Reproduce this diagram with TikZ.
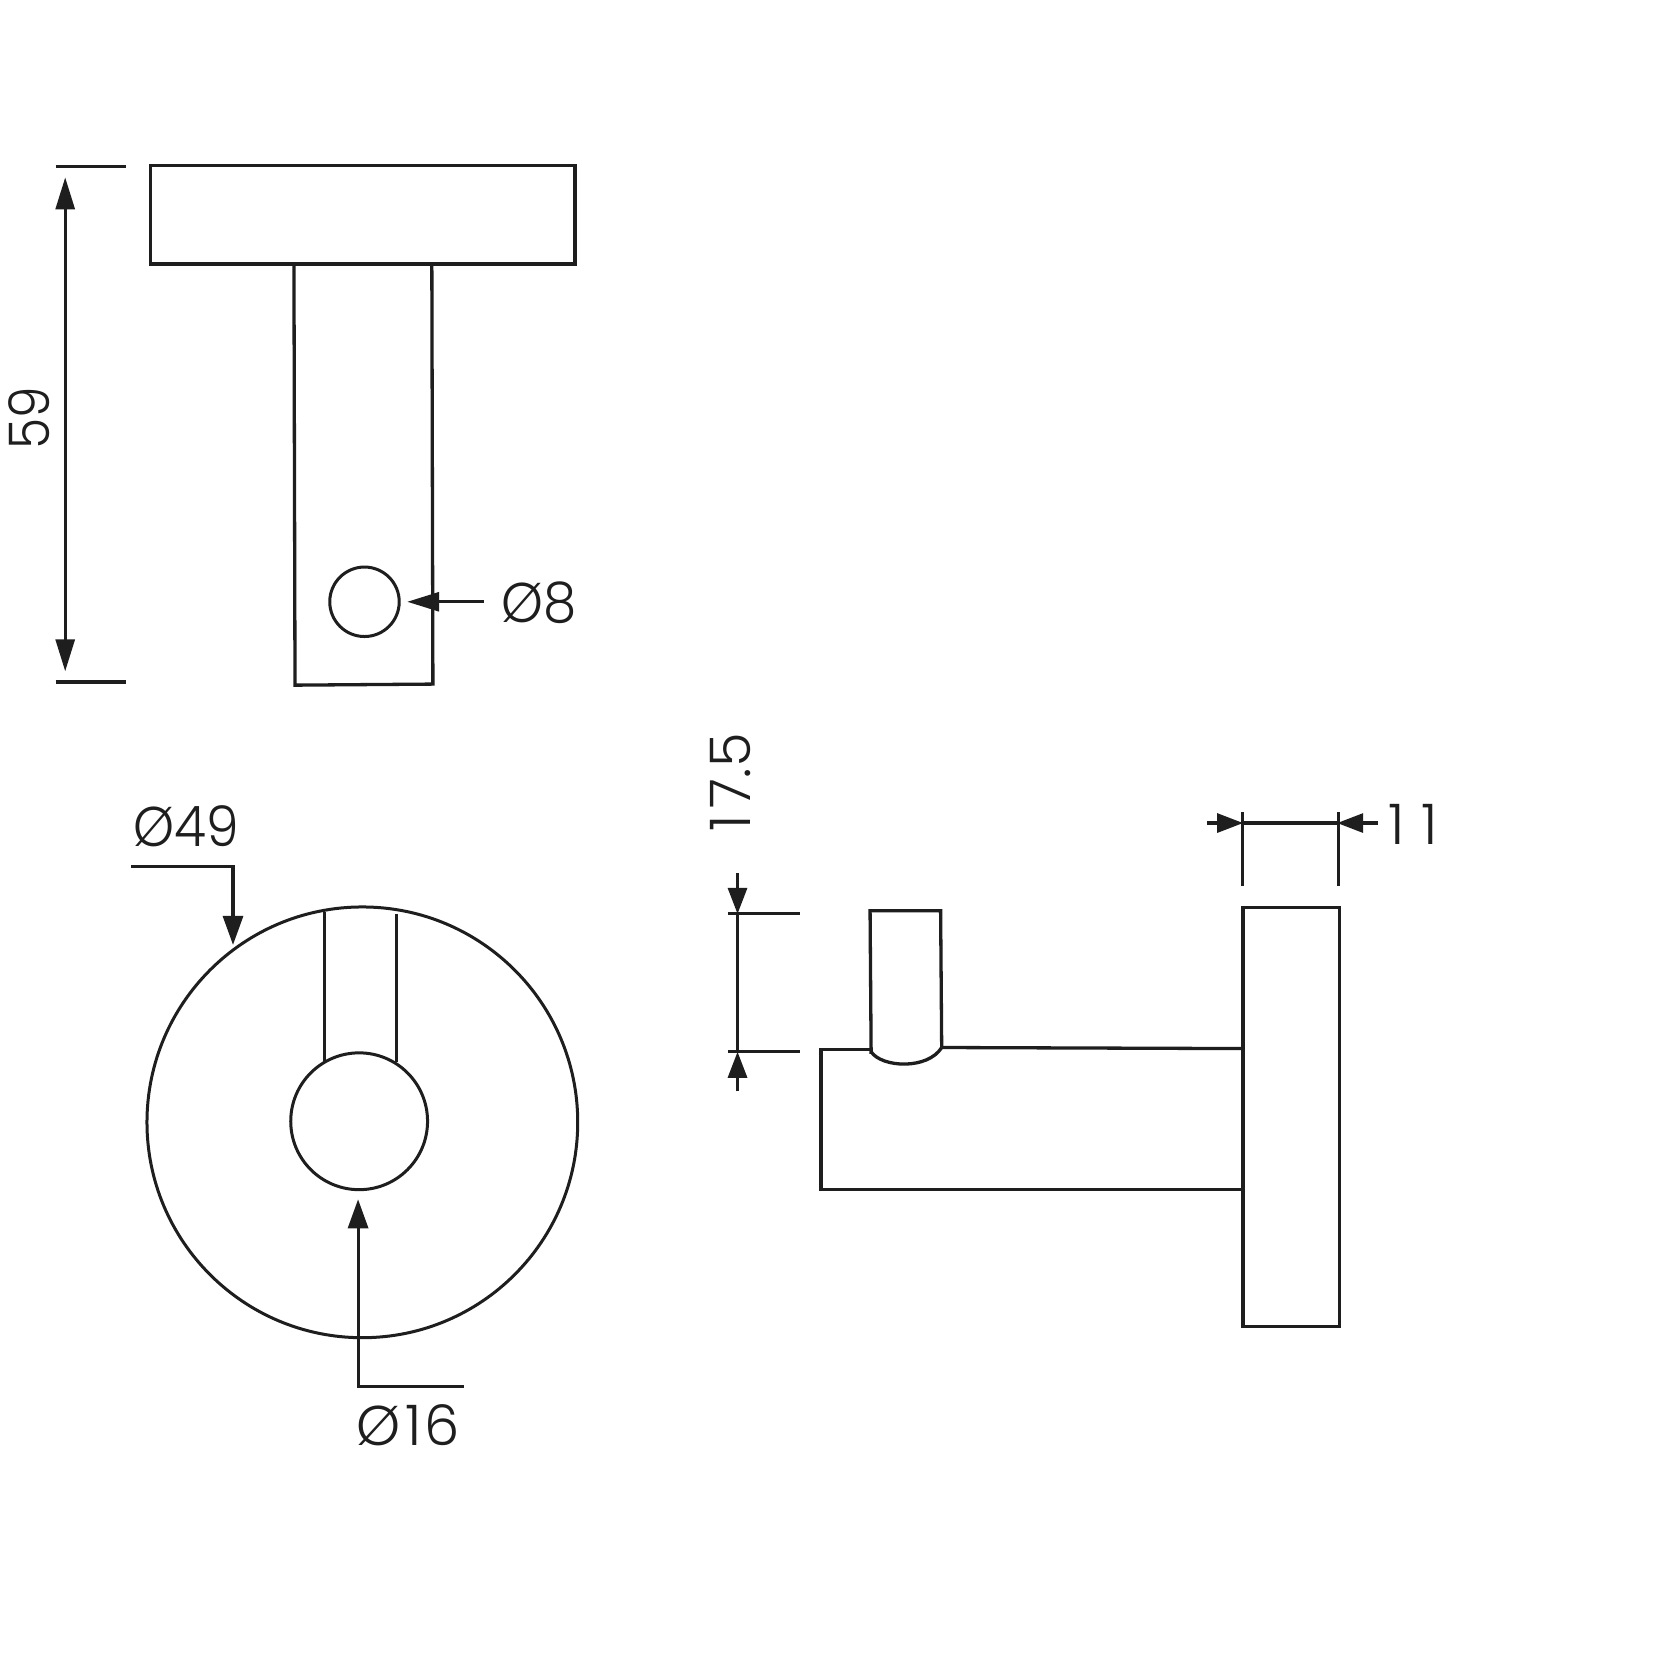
\documentclass[tikz,border=0pt]{standalone}
\usepackage{fontspec}
\setmainfont{Poppins}[UprightFont=* Light]
\usetikzlibrary{arrows.meta}
\definecolor{ink}{HTML}{1E1E1E}
\tikzset{
  part/.style={draw=ink,line width=3.3pt,line join=miter},
  thinpart/.style={draw=ink,line width=3pt},
  dimline/.style={draw=ink,line width=3.1pt},
  headlong/.style={-{Triangle[length=32pt,width=19pt]}},
  headmid/.style={-{Triangle[length=29pt,width=20pt]}},
  headshort/.style={-{Triangle[length=26pt,width=19pt]}},
  dimtext/.style={text=ink,inner sep=0pt,font=\fontsize{56pt}{60pt}\selectfont}
}
\begin{document}
\begin{tikzpicture}[x=1.0689pt,y=-1.0689pt]
\useasboundingbox (0,0) rectangle (1568,1568);
\fill[white] (0,0) rectangle (1568,1568);
% top view
\draw[part] (141,155) rectangle (538,247);
\draw[part] (275,247) -- (276,641) -- (405,640) -- (404,247);
\coordinate (holeC) at (341,563);
\draw[thinpart] (holeC) circle (32.5);
% 59
\draw[dimline] (52,156) -- (118,156);
\draw[dimline] (52,638) -- (118,638);
\coordinate (dimA) at (61,166); \coordinate (dimB) at (61,628); \coordinate (dimM) at (61,400);
\draw[dimline,headlong] (dimM) -- (dimA);
\draw[dimline,headlong] (dimM) -- (dimB);
\node[dimtext,rotate=90,xscale=.9] (t59) at (27,391) {59};
% 8
\coordinate (a8s) at (453,563); \coordinate (a8t) at (381,563);
\draw[dimline,headlong] (a8s) -- (a8t);
\node[dimtext,xscale=.95] (t8) at (504,564) {Ø8};
% front view
\coordinate (big) at (339,1050); \coordinate (small) at (336,1049);
\draw[thinpart] (big) circle (201.5);
\draw[thinpart] (small) circle (64);
\draw[thinpart] (304,853) -- (304,994);
\draw[thinpart] (371,855) -- (371,994);
\coordinate (l49) at (123,811); \coordinate (c49) at (218,811); \coordinate (t49p) at (218,884);
\draw[dimline,headmid] (l49) -- (c49) -- (t49p);
\node[dimtext,xscale=.93] (t49) at (174,773) {Ø49};
\coordinate (l16) at (434,1297); \coordinate (c16) at (335,1297); \coordinate (t16p) at (335,1122);
\draw[dimline,headmid] (l16) -- (c16) -- (t16p);
\node[dimtext] (t16) at (382,1333) {Ø\kern4pt 1\kern3pt 6};
% side view
\draw[part] (1163,849) rectangle (1253,1241);
\draw[part] (1163,981) -- (881,980);
\draw[part] (815,982) -- (768,982) -- (768,1113) -- (1163,1113);
\draw[part] (815,986) -- (814,852) -- (880,852) -- (881,980);
\draw[part] (815,984) .. controls (825,999) and (868,1001) .. (881,980);
% 17.5
\draw[dimline] (681,855) -- (748,855);
\draw[dimline] (681,984) -- (748,984);
\draw[dimline] (690,855) -- (690,984);
\coordinate (v1) at (690,817); \coordinate (v2) at (690,855);
\coordinate (v3) at (690,1021); \coordinate (v4) at (690,984);
\draw[dimline,headshort] (v1) -- (v2);
\draw[dimline,headshort] (v3) -- (v4);
\node[dimtext,rotate=90] (t175) at (683,732) {1\kern7pt 7.\kern1pt 5};
% 11
\draw[dimline] (1162,760) -- (1162,829);
\draw[dimline] (1252,760) -- (1252,829);
\draw[dimline] (1162,770) -- (1252,770);
\coordinate (h1) at (1129,770); \coordinate (h2) at (1163,770);
\coordinate (h3) at (1289,770); \coordinate (h4) at (1251,770);
\draw[dimline,headshort] (h1) -- (h2);
\draw[dimline,headshort] (h3) -- (h4);
\node[dimtext] (t11) at (1322,771) {1\kern17pt 1};
\end{tikzpicture}
\end{document}
